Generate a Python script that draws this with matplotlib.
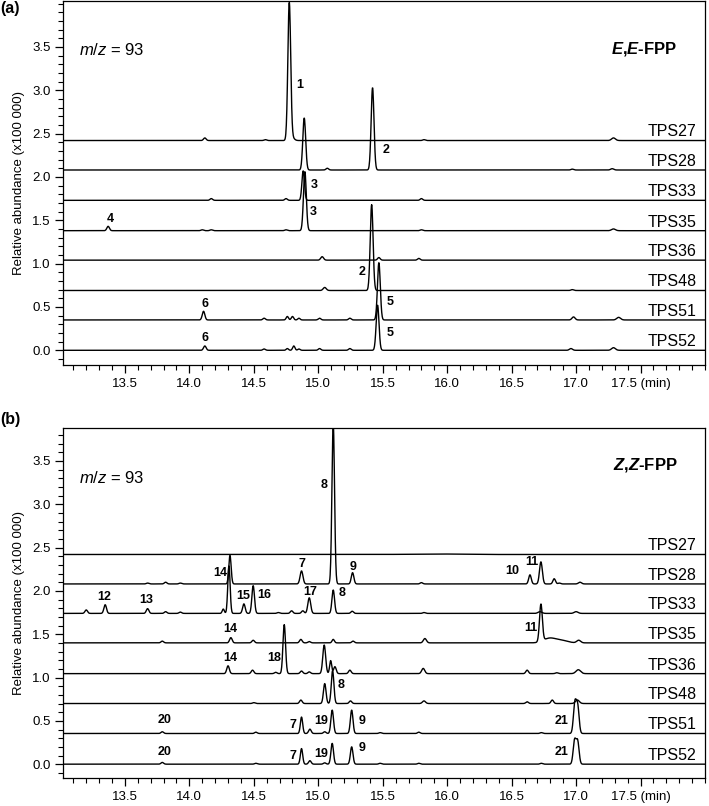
import numpy as np
import matplotlib
matplotlib.use('Agg')
import matplotlib.pyplot as plt
from matplotlib.ticker import MultipleLocator

plt.rcParams['font.family'] = ['Liberation Sans', 'DejaVu Sans']
plt.rcParams['mathtext.fontset'] = 'custom'
plt.rcParams['mathtext.rm'] = 'Liberation Sans'
plt.rcParams['mathtext.it'] = 'Liberation Sans:italic'
plt.rcParams['mathtext.bf'] = 'Liberation Sans:bold'
plt.rcParams['mathtext.bfit'] = 'Liberation Sans:italic:bold'

# ── data ────────────────────────────────────────────────────────────────────
samples = ['TPS27', 'TPS28', 'TPS33', 'TPS35', 'TPS36', 'TPS48', 'TPS51', 'TPS52']

# trace offsets (x100 000)
ee_offsets = [2.42, 2.08, 1.73, 1.38, 1.04, 0.69, 0.35, 0.0]
zz_offsets = [2.42, 2.08, 1.74, 1.40, 1.045, 0.70, 0.354, 0.0]

# peak tables: (retention time [min], height [x100 000], width sigma [min])
ee_peaks = {
    'TPS27': [(14.12, 0.03, 0.01), (14.59, 0.01, 0.01), (14.775, 1.59, 0.011), (14.80, 0.03, 0.015),
              (15.82, 0.01, 0.01), (17.29, 0.03, 0.015)],
    'TPS28': [(14.891, 0.60, 0.011), (15.07, 0.02, 0.01), (15.421, 0.95, 0.011),
              (16.97, 0.01, 0.01), (17.28, 0.015, 0.012)],
    'TPS33': [(14.17, 0.02, 0.01), (14.75, 0.02, 0.01), (14.883, 0.34, 0.010), (15.80, 0.02, 0.01)],
    'TPS35': [(13.37, 0.05, 0.01), (14.10, 0.01, 0.01), (14.17, 0.01, 0.01), (14.75, 0.01, 0.01),
              (14.896, 0.68, 0.011), (15.80, 0.01, 0.01), (17.29, 0.02, 0.015)],
    'TPS36': [(15.03, 0.04, 0.011), (15.47, 0.03, 0.01), (15.78, 0.02, 0.01)],
    'TPS48': [(15.05, 0.035, 0.012), (15.414, 0.99, 0.011), (16.97, 0.01, 0.01)],
    'TPS51': [(14.11, 0.10, 0.01), (14.58, 0.02, 0.01), (14.76, 0.04, 0.009), (14.80, 0.04, 0.009),
              (14.85, 0.02, 0.009), (15.01, 0.02, 0.01), (15.245, 0.02, 0.01), (15.47, 0.66, 0.011),
              (16.98, 0.035, 0.012), (17.33, 0.03, 0.015)],
    'TPS52': [(14.12, 0.05, 0.01), (14.58, 0.015, 0.01), (14.76, 0.02, 0.009), (14.81, 0.05, 0.009),
              (14.85, 0.015, 0.009), (15.01, 0.02, 0.01), (15.245, 0.02, 0.01), (15.46, 0.52, 0.011),
              (16.96, 0.02, 0.012), (17.29, 0.03, 0.015)],
}

zz_peaks = {
    'TPS27': [(15.90, 0.006, 0.18)],
    'TPS28': [(13.676, 0.01, 0.01), (13.816, 0.02, 0.01), (13.93, 0.01, 0.01), (14.315, 0.33, 0.009),
              (14.87, 0.15, 0.011), (15.116, 1.85, 0.010), (15.266, 0.13, 0.01), (15.80, 0.015, 0.01),
              (16.642, 0.105, 0.01), (16.727, 0.255, 0.011), (16.83, 0.06, 0.01), (16.87, 0.01, 0.01),
              (17.03, 0.02, 0.012)],
    'TPS33': [(13.20, 0.04, 0.01), (13.347, 0.10, 0.01), (13.676, 0.055, 0.01), (13.816, 0.02, 0.01),
              (13.93, 0.015, 0.01), (14.263, 0.05, 0.008), (14.307, 0.55, 0.009), (14.423, 0.11, 0.01),
              (14.495, 0.32, 0.01), (14.69, 0.01, 0.01), (14.793, 0.03, 0.01), (14.88, 0.03, 0.01),
              (14.93, 0.18, 0.011), (15.116, 0.27, 0.01), (15.263, 0.025, 0.01), (15.82, 0.01, 0.01),
              (16.72, 0.02, 0.015), (17.00, 0.02, 0.015)],
    'TPS35': [(13.79, 0.02, 0.01), (14.322, 0.06, 0.01), (14.495, 0.03, 0.01), (14.865, 0.04, 0.01),
              (14.93, 0.015, 0.01), (15.116, 0.04, 0.009), (15.27, 0.02, 0.01), (15.827, 0.05, 0.012),
              (16.727, 0.43, 0.011), (16.79, 0.05, 0.045), (16.88, 0.03, 0.05), (17.02, 0.03, 0.015)],
    'TPS36': [(14.30, 0.09, 0.01), (14.49, 0.04, 0.01), (14.67, 0.015, 0.01), (14.736, 0.565, 0.01),
              (14.87, 0.03, 0.01), (14.93, 0.02, 0.01), (15.046, 0.33, 0.011), (15.096, 0.15, 0.008),
              (15.129, 0.08, 0.01), (15.245, 0.04, 0.01), (15.814, 0.06, 0.012), (16.62, 0.04, 0.01),
              (16.85, 0.01, 0.01), (17.017, 0.045, 0.018)],
    'TPS48': [(14.50, 0.01, 0.01), (14.865, 0.04, 0.01), (15.05, 0.23, 0.01), (15.111, 0.38, 0.01),
              (15.25, 0.03, 0.01), (15.82, 0.03, 0.012), (16.62, 0.02, 0.01), (16.815, 0.04, 0.01),
              (17.01, 0.04, 0.015)],
    'TPS51': [(13.79, 0.02, 0.01), (14.516, 0.015, 0.01), (14.87, 0.19, 0.009), (14.935, 0.05, 0.01),
              (15.05, 0.02, 0.01), (15.108, 0.27, 0.01), (15.259, 0.27, 0.01), (15.48, 0.01, 0.01),
              (15.78, 0.015, 0.01), (16.73, 0.01, 0.01), (16.99, 0.34, 0.011), (17.012, 0.31, 0.011)],
    'TPS52': [(13.79, 0.02, 0.01), (14.516, 0.01, 0.01), (14.87, 0.18, 0.009), (14.935, 0.04, 0.01),
              (15.05, 0.015, 0.01), (15.108, 0.24, 0.01), (15.259, 0.20, 0.01), (15.48, 0.01, 0.01),
              (15.78, 0.01, 0.01), (16.73, 0.01, 0.01), (16.988, 0.27, 0.011), (17.012, 0.26, 0.011)],
}

# peak numbers: (label, rt, y)
ee_labels = [('1', 14.858, 3.06), ('2', 15.525, 2.31), ('3', 14.97, 1.91), ('3', 14.96, 1.60),
             ('4', 13.384, 1.52), ('2', 15.336, 0.90), ('5', 15.56, 0.56), ('5', 15.56, 0.20),
             ('6', 14.12, 0.53), ('6', 14.12, 0.146)]
zz_labels = [('8', 15.046, 3.226), ('14', 14.237, 2.21), ('7', 14.876, 2.31), ('9', 15.267, 2.28),
             ('10', 16.505, 2.226), ('11', 16.66, 2.33), ('12', 13.34, 1.93), ('13', 13.668, 1.89),
             ('15', 14.418, 1.94), ('16', 14.58, 1.95), ('17', 14.935, 1.99), ('8', 15.186, 1.97),
             ('14', 14.315, 1.565), ('14', 14.315, 1.22), ('18', 14.656, 1.226), ('11', 16.65, 1.57),
             ('8', 15.18, 0.91), ('20', 13.805, 0.515), ('7', 14.80, 0.45), ('19', 15.026, 0.496),
             ('9', 15.336, 0.50), ('21', 16.89, 0.496), ('20', 13.805, 0.142), ('7', 14.80, 0.092),
             ('19', 15.026, 0.123), ('9', 15.336, 0.19), ('21', 16.89, 0.142)]

rt = np.arange(13.0, 18.02, 0.002)


def build_trace(peaks):
    y = np.zeros_like(rt)
    for pos, h, w in peaks:
        y += h * np.exp(-0.5 * ((rt - pos) / w) ** 2)
    return y


def draw_panel(ax, offsets, peaks, labels, substrate, ylim, mz_y, sub_y):
    for name, off in zip(samples, offsets):
        ax.plot(rt, off + build_trace(peaks[name]), color='black', lw=1.0)
        ax.text(17.935, off + 0.012, name, ha='right', va='bottom', fontsize=11.5)
    for txt, x, y in labels:
        ax.text(x, y, txt, ha='center', va='center', fontsize=9, fontweight='bold')
    ax.text(13.145, mz_y, r'$m/z$ = 93', ha='left', va='center', fontsize=12)
    ax.text(17.785, sub_y, substrate, ha='right', va='center', fontsize=12, fontweight='bold')
    ax.set_xlim(13.02, 18.0)
    ax.set_ylim(*ylim)
    ax.xaxis.set_minor_locator(MultipleLocator(0.1))
    ax.yaxis.set_minor_locator(MultipleLocator(0.1))
    ax.set_xticks(np.arange(13.5, 18.0, 0.5))
    ax.set_xticklabels(['13.5', '14.0', '14.5', '15.0', '15.5', '16.0', '16.5', '17.0', '17.5 (min)'])
    ax.set_yticks(np.arange(0, 3.6, 0.5))
    ax.set_yticklabels([f'{v:.1f}' for v in np.arange(0, 3.6, 0.5)])
    ax.tick_params(which='major', length=6, width=0.9, labelsize=9.5, direction='out', pad=3)
    ax.tick_params(which='minor', length=3.5, width=0.8, direction='out')
    for s in ax.spines.values():
        s.set_linewidth(0.9)
    ax.set_ylabel('Relative abundance (x100 000)', fontsize=9.5, labelpad=5)


fig = plt.figure(figsize=(7.09, 8.06), dpi=100)
ax_a = fig.add_axes([0.0889, 0.5471, 0.9055, 0.4517])
ax_b = fig.add_axes([0.0889, 0.0347, 0.9055, 0.4343])

draw_panel(ax_a, ee_offsets, ee_peaks, ee_labels, r'$\mathbfit{E}$,$\mathbfit{E}$-FPP',
           (-0.17, 4.03), 3.46, 3.48)
draw_panel(ax_b, zz_offsets, zz_peaks, zz_labels, r'$\mathbfit{Z}$,$\mathbfit{Z}$-FPP',
           (-0.16, 3.88), 3.30, 3.457)

fig.text(0.001, 0.990, '(a)', fontsize=11.5, fontweight='bold', ha='left', va='center')
fig.text(0.001, 0.479, '(b)', fontsize=11.5, fontweight='bold', ha='left', va='center')

fig.savefig('out.png', dpi=100)
